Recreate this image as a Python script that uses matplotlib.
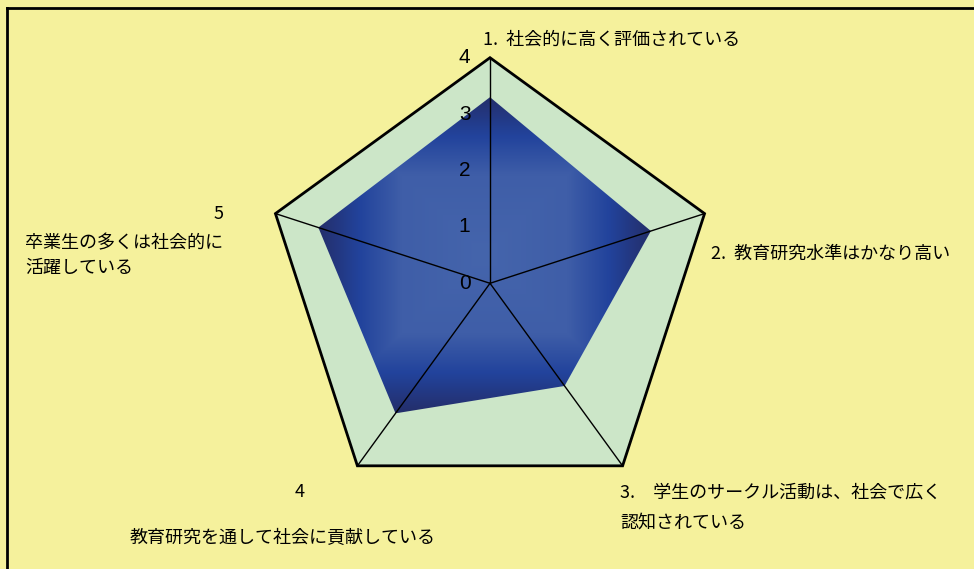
import matplotlib.pyplot as plt
import numpy as np
from matplotlib.colors import LinearSegmentedColormap
from matplotlib.patches import Polygon
from matplotlib.lines import Line2D

plt.rcParams['font.family'] = ['Noto Sans CJK JP', 'DejaVu Sans']

# data
values = [3.3, 3.0, 2.25, 2.85, 3.2]
max_value = 4
ticks = [0, 1, 2, 3, 4]

W, H = 974, 569
fig = plt.figure(figsize=(W / 100, H / 100), dpi=100)
fig.patch.set_facecolor('#F5F19C')

# axes spanning whole figure, 1 unit = 56.4 px, centre at (490, 283.3) px
scale = 56.4
cx, cy = 490, 283.3
ax = fig.add_axes([0, 0, 1, 1])
ax.set_xlim(-cx / scale, (W - cx) / scale)
ax.set_ylim(-(H - cy) / scale, cy / scale)
ax.axis('off')

n = len(values)
angles = np.deg2rad(90 - 72 * np.arange(n))
outer = np.column_stack([max_value * np.cos(angles), max_value * np.sin(angles)])
pts = np.column_stack([np.array(values) * np.cos(angles), np.array(values) * np.sin(angles)])

# plot area
ax.add_patch(Polygon(outer, closed=True, facecolor='#CCE6C8', edgecolor='none', zorder=1))

# rectangular "from centre" gradient over the bounding box of the data polygon
x0, y0 = pts.min(axis=0)
x1, y1 = pts.max(axis=0)
xs = np.linspace(x0, x1, 500)
ys = np.linspace(y0, y1, 500)
X, Y = np.meshgrid(xs, ys)
xc, yc = (x0 + x1) / 2, (y0 + y1) / 2
t = np.maximum(np.abs(X - xc) / ((x1 - x0) / 2), np.abs(Y - yc) / ((y1 - y0) / 2))
cmap = LinearSegmentedColormap.from_list(
    'blu', [(0, '#4565AC'), (0.5, '#3F5EA8'), (0.75, '#22439C'), (1, '#242E6A')])
im = ax.imshow(t, cmap=cmap, vmin=0, vmax=1, extent=(x0, x1, y0, y1), origin='lower',
               interpolation='bilinear', zorder=2)
poly = Polygon(pts, closed=True, facecolor='none', edgecolor='none', zorder=2)
ax.add_patch(poly)
im.set_clip_path(poly)

# spokes and outer frame
for x, y in outer:
    ax.plot([0, x], [0, y], color='black', lw=1, zorder=3)
ax.add_patch(Polygon(outer, closed=True, facecolor='none', edgecolor='black', lw=2, zorder=4))

# radial tick labels
for tv in ticks:
    ax.text(-0.45, tv, str(tv), fontsize=15, ha='center', va='center',
            family='Liberation Sans', zorder=5)


def px(x, y):
    return x / W, 1 - y / H


fs = 13
fig.text(*px(483, 40), '1.  社会的に高く評価されている', fontsize=fs, va='center')
fig.text(*px(711, 254), '2.  教育研究水準はかなり高い', fontsize=fs, va='center')
fig.text(*px(620, 493), '3.　学生のサークル活動は、社会で広く', fontsize=fs, va='center')
fig.text(*px(620, 523), '認知されている', fontsize=fs, va='center')
fig.text(*px(300, 492), '4', fontsize=fs, va='center', ha='center')
fig.text(*px(130, 538), '教育研究を通して社会に貢献している', fontsize=fs, va='center')
fig.text(*px(219, 214), '5', fontsize=fs, va='center', ha='center')
fig.text(*px(25, 243), '卒業生の多くは社会的に', fontsize=fs, va='center')
fig.text(*px(25, 268), '活躍している', fontsize=fs, va='center')

# chart border
fig.add_artist(Line2D([7 / W, 7 / W], [0, 1 - 8 / H], color='black', lw=2))
fig.add_artist(Line2D([7 / W, 1], [1 - 8 / H, 1 - 8 / H], color='black', lw=2))

fig.savefig('out.png', dpi=100, facecolor=fig.get_facecolor())
